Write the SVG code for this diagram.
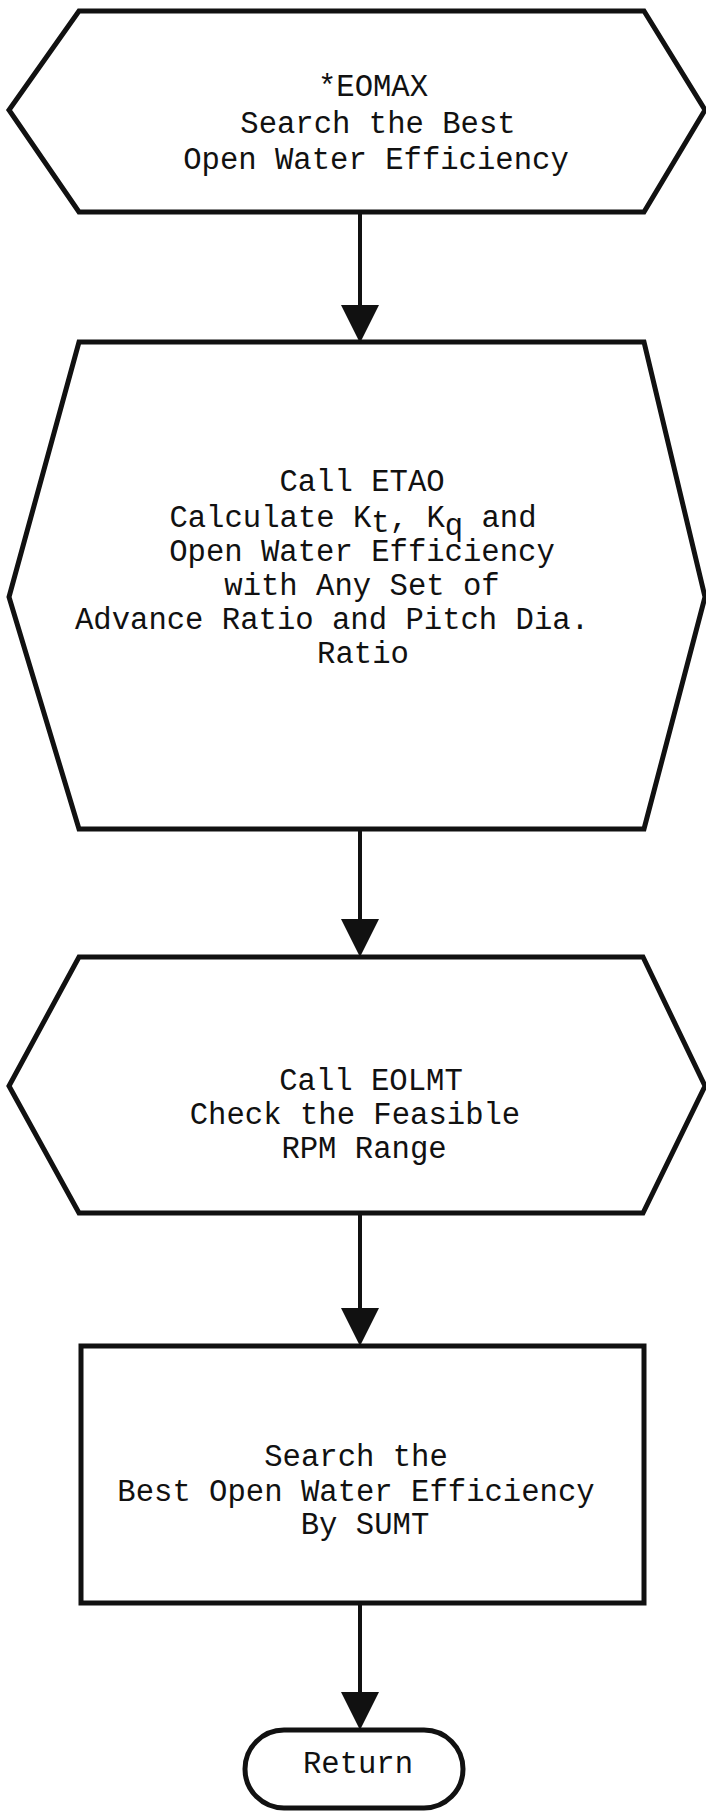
<svg xmlns="http://www.w3.org/2000/svg" width="706" height="1811" viewBox="0 0 706 1811">
  <defs>
    <style>
      .shape { fill: #ffffff; stroke: #111111; stroke-width: 5; stroke-linejoin: miter; }
      .flow { fill: none; stroke: #111111; stroke-width: 4; }
      .label { font-family: "Liberation Mono", "Courier New", monospace; font-size: 30.6px; fill: #111111; text-anchor: middle; }
    </style>
    <marker id="arrowhead" markerUnits="userSpaceOnUse" markerWidth="38" markerHeight="38" viewBox="0 0 38 38" refX="18" refY="19" orient="auto">
      <path d="M0 0 L38 19 L0 38 Z" fill="#111111"/>
    </marker>
  </defs>
  <rect width="706" height="1811" fill="#ffffff"/>

  <!-- entry point -->
  <g id="node-eomax">
    <polygon class="shape" points="79,11 644,11 705,110 644,212 79,212 9,110"/>
    <text class="label" x="373" y="96">*EOMAX</text>
    <text class="label" x="378" y="133">Search the Best</text>
    <text class="label" x="376" y="169">Open Water Efficiency</text>
  </g>

  <!-- subroutine ETAO -->
  <g id="node-etao">
    <polygon class="shape" points="79,342 644,342 705,597 644,829 79,829 9,597"/>
    <text class="label" x="362" y="491">Call ETAO</text>
    <text class="label" x="353" y="527">Calculate K<tspan dy="5">t</tspan><tspan dy="-5">, K</tspan><tspan dy="8">q</tspan><tspan dy="-8"> and</tspan></text>
    <text class="label" x="362" y="561">Open Water Efficiency</text>
    <text class="label" x="362" y="595">with Any Set of</text>
    <text class="label" x="332" y="629">Advance Ratio and Pitch Dia.</text>
    <text class="label" x="363" y="663">Ratio</text>
  </g>

  <!-- subroutine EOLMT -->
  <g id="node-eolmt">
    <polygon class="shape" points="79,957 643,957 705,1086 643,1213 79,1213 9,1086"/>
    <text class="label" x="371" y="1090">Call EOLMT</text>
    <text class="label" x="355" y="1124">Check the Feasible</text>
    <text class="label" x="364" y="1158">RPM Range</text>
  </g>

  <!-- SUMT search step -->
  <g id="node-sumt">
    <rect class="shape" x="81" y="1346" width="563" height="257"/>
    <text class="label" x="356" y="1466">Search the</text>
    <text class="label" x="356" y="1501">Best Open Water Efficiency</text>
    <text class="label" x="365" y="1534">By SUMT</text>
  </g>

  <!-- terminal -->
  <g id="node-return">
    <rect class="shape" x="245" y="1730" width="218" height="78" rx="39" ry="39"/>
    <text class="label" x="358" y="1773">Return</text>
  </g>

  <g id="connectors">
    <line class="flow" x1="360" y1="212" x2="360" y2="323" marker-end="url(#arrowhead)"/>
    <line class="flow" x1="360" y1="829" x2="360" y2="937" marker-end="url(#arrowhead)"/>
    <line class="flow" x1="360" y1="1213" x2="360" y2="1326" marker-end="url(#arrowhead)"/>
    <line class="flow" x1="360" y1="1603" x2="360" y2="1710" marker-end="url(#arrowhead)"/>
  </g>
</svg>
